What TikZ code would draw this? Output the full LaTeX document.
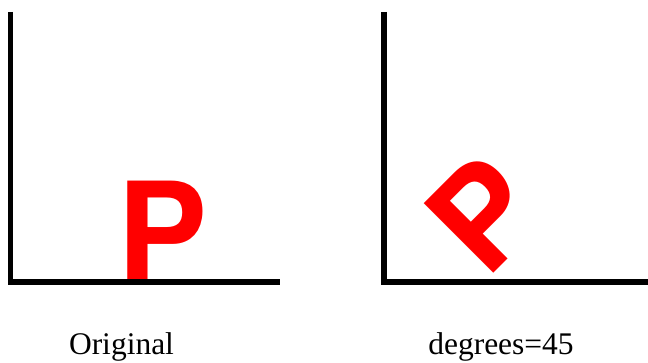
\documentclass[tikz,border=0pt]{standalone}
\usepackage{fontspec}
\setmainfont{Liberation Serif}
\newfontfamily\herosfont{TeX Gyre Heros}
\begin{document}
\begin{tikzpicture}[x=1pt,y=1pt,
  axisline/.style={line width=5.4pt,black,line join=miter},
  bigp/.style={inner sep=0pt,outer sep=0pt,text=red,font=\herosfont\bfseries\fontsize{135}{135}\selectfont},
  caption/.style={inner sep=0pt,outer sep=0pt,font=\fontsize{31.5}{31.5}\selectfont,anchor=base}]
\useasboundingbox (0,0) rectangle (648,363);
\begin{scope}
\clip (0,0) rectangle (648,363);
% left axes
\draw[axisline] (10.7,351) -- (10.7,81) -- (280,81);
% right axes
\draw[axisline] (384,351) -- (384,81) -- (660,81);
\end{scope}
\node[bigp,anchor=base west] (pOrig) at (117,83.7) {P};
\node[bigp,anchor=base west,rotate=45] (pRot) at (486,82.5) {P};
\node[caption] (lblOrig) at (121.5,8.7) {Original};
\node[caption] (lblRot) at (501,8.7) {degrees=45};
\end{tikzpicture}
\end{document}
